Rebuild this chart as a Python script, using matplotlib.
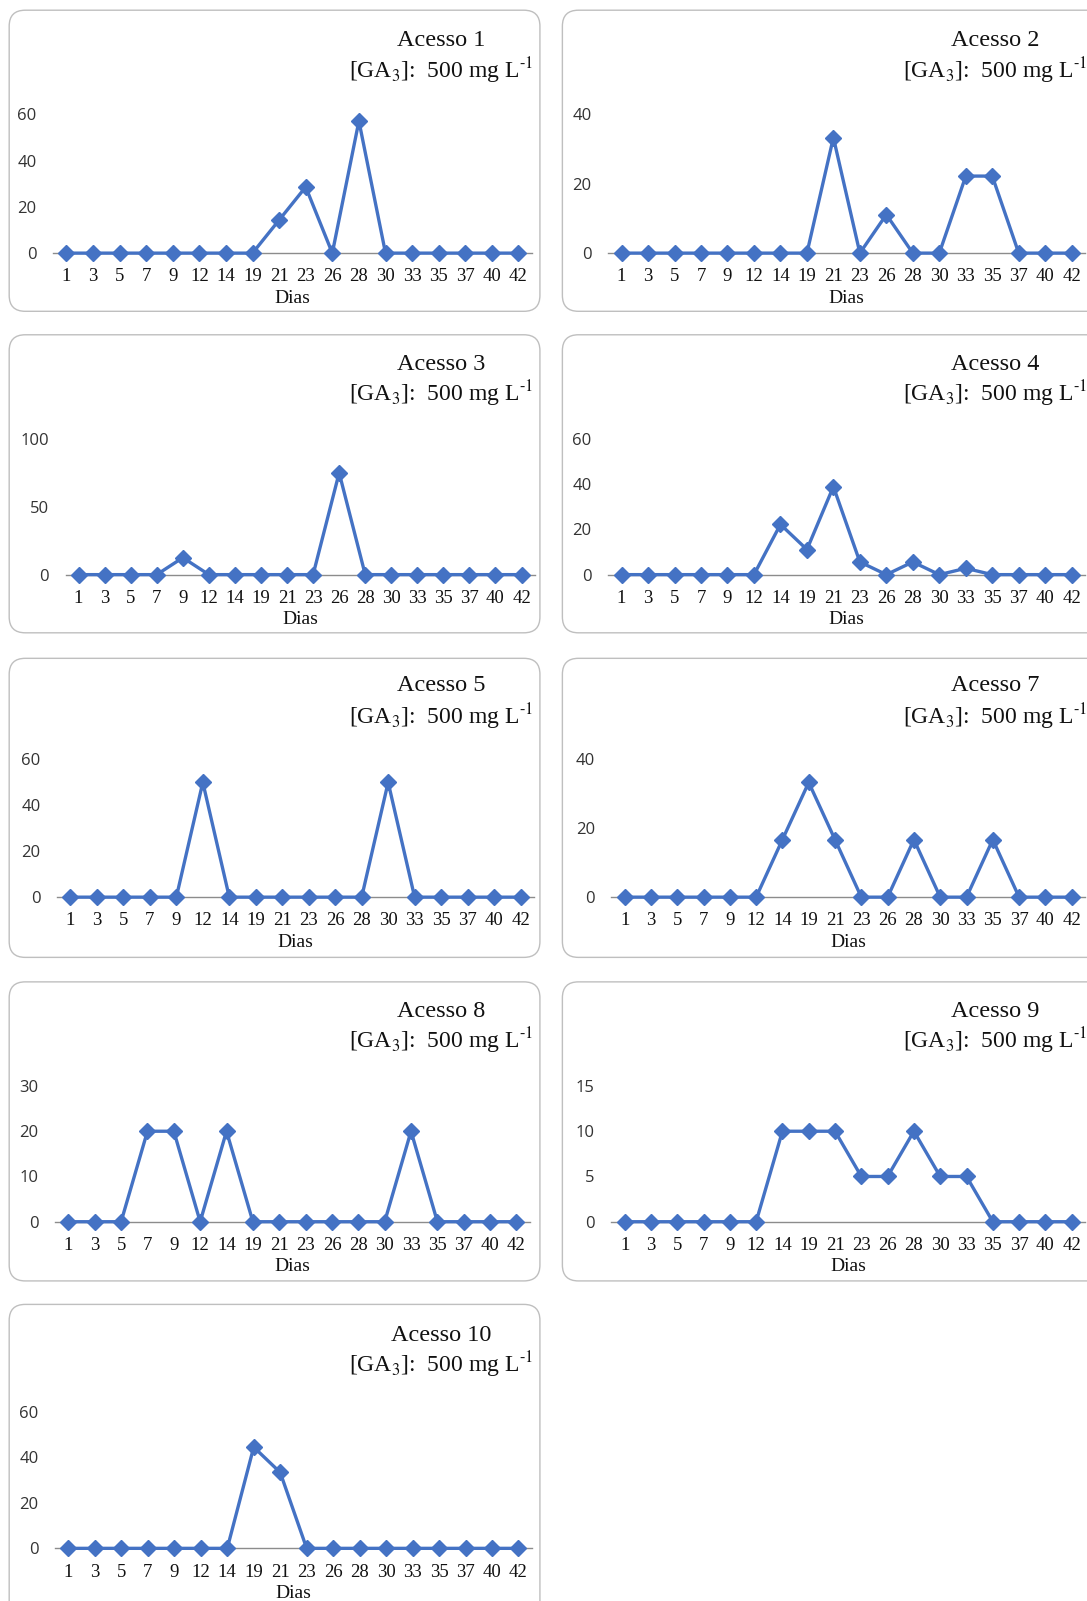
import matplotlib
matplotlib.use("Agg")
import matplotlib.pyplot as plt
from matplotlib.patches import FancyBboxPatch

# ---- data -------------------------------------------------------------
dias = ["1", "3", "5", "7", "9", "12", "14", "19", "21", "23",
        "26", "28", "30", "33", "35", "37", "40", "42"]

acesso_1 = [0, 0, 0, 0, 0, 0, 0, 0, 14.3, 28.6, 0, 57.1, 0, 0, 0, 0, 0, 0]
acesso_2 = [0, 0, 0, 0, 0, 0, 0, 0, 33.3, 0, 11.1, 0, 0, 22.2, 22.2, 0, 0, 0]
acesso_3 = [0, 0, 0, 0, 12.5, 0, 0, 0, 0, 0, 75, 0, 0, 0, 0, 0, 0, 0]
acesso_4 = [0, 0, 0, 0, 0, 0, 22.2, 11.1, 38.9, 5.6, 0, 5.6, 0, 2.8, 0, 0, 0, 0]
acesso_5 = [0, 0, 0, 0, 0, 50, 0, 0, 0, 0, 0, 0, 50, 0, 0, 0, 0, 0]
acesso_7 = [0, 0, 0, 0, 0, 0, 16.7, 33.3, 16.7, 0, 0, 16.7, 0, 0, 16.7, 0, 0, 0]
acesso_8 = [0, 0, 0, 20, 20, 0, 20, 0, 0, 0, 0, 0, 0, 20, 0, 0, 0, 0]
acesso_9 = [0, 0, 0, 0, 0, 0, 10, 10, 10, 5, 5, 10, 5, 5, 0, 0, 0, 0]
acesso_10 = [0, 0, 0, 0, 0, 0, 0, 44.4, 33.3, 0, 0, 0, 0, 0, 0, 0, 0, 0]

yticks_1 = [0, 20, 40, 60]
yticks_2 = [0, 20, 40]
yticks_3 = [0, 50, 100]
yticks_4 = [0, 20, 40, 60]
yticks_5 = [0, 20, 40, 60]
yticks_7 = [0, 20, 40]
yticks_8 = [0, 10, 20, 30]
yticks_9 = [0, 5, 10, 15]
yticks_10 = [0, 20, 40, 60]

subtitle = r"[GA$_3$]:  500 mg L$^{\text{-}1}$"
xlabel = "Dias"

# ---- layout (pixel units on a 1065-wide grid, scaled to the canvas) ----
W, H = 1087, 1601
S = W / 1065.0

row_box = [(10, 305), (328, 620), (645, 938), (962, 1255), (1278, 1600)]
row_top_tick = [112, 430, 744, 1064, 1383]
row_zero = [248, 563, 879, 1197, 1517]
row_title = [40, 357, 672, 991, 1308]
row_sub = [69, 386, 702, 1020, 1337]
col_box = [(9, 529), (551, 1110)]
col_title_x = [432, 975]

# (number, values, yticks, row, col, first category x, last category x)
panels = [
    (1, acesso_1, yticks_1, 0, 0, 65, 508),
    (2, acesso_2, yticks_2, 0, 1, 609, 1050),
    (3, acesso_3, yticks_3, 1, 0, 77, 511),
    (4, acesso_4, yticks_4, 1, 1, 609, 1050),
    (5, acesso_5, yticks_5, 2, 0, 69, 510),
    (7, acesso_7, yticks_7, 2, 1, 612, 1050),
    (8, acesso_8, yticks_8, 3, 0, 67, 506),
    (9, acesso_9, yticks_9, 3, 1, 612, 1050),
    (10, acesso_10, yticks_10, 4, 0, 67, 508),
]

plt.rcParams["mathtext.fontset"] = "stix"
SERIF = ["Liberation Serif", "DejaVu Serif"]
SANS = ["Open Sans", "DejaVu Sans"]
BLUE = "#4472C4"

fig = plt.figure(figsize=(W / 100, H / 100), dpi=100)
fig.patch.set_facecolor("white")

bg = fig.add_axes([0, 0, 1, 1])
bg.set_xlim(0, W)
bg.set_ylim(H, 0)
bg.axis("off")

for num, vals, ticks, r, c, x_first, x_last in panels:
    # rounded frame around each chart
    bx0, bx1 = col_box[c]
    by0, by1 = row_box[r]
    frame = FancyBboxPatch((bx0 * S, by0 * S), (bx1 - bx0) * S, (by1 - by0) * S,
                           boxstyle="round,pad=0,rounding_size=16",
                           facecolor="white", edgecolor="#BFBFBF", linewidth=1.0,
                           transform=bg.transData, zorder=0)
    bg.add_patch(frame)

    # titles
    tx = col_title_x[c] * S
    bg.text(tx, row_title[r] * S, f"Acesso {num}", ha="center", va="center",
            fontsize=17.5, family=SERIF, color="#111111")
    bg.text(tx, row_sub[r] * S, subtitle, ha="center", va="center",
            fontsize=17, family=SERIF, color="#111111")

    # plot area
    step = (x_last - x_first) / 17.0
    left = (x_first - step / 2) * S
    right = (x_last + step / 2) * S
    top = row_top_tick[r] * S
    zero = row_zero[r] * S
    ax = fig.add_axes([left / W, 1 - zero / H, (right - left) / W, (zero - top) / H])
    ax.patch.set_alpha(0)

    xs = list(range(len(dias)))
    ax.plot(xs, vals, color=BLUE, lw=2.4, marker="D", markersize=8,
            markeredgecolor=BLUE, clip_on=False, zorder=3)

    ax.set_xlim(-0.5, len(dias) - 0.5)
    ax.set_ylim(0, ticks[-1])
    ax.set_yticks(ticks)
    ax.set_yticklabels([str(t) for t in ticks], family=SANS, fontsize=12,
                       color="#333333")
    ax.set_xticks(xs)
    ax.set_xticklabels(dias, family=SERIF, fontsize=13.5, color="#111111")
    ax.tick_params(axis="y", length=0, pad=12)
    ax.tick_params(axis="x", length=0, pad=11)

    for side in ("top", "right", "left"):
        ax.spines[side].set_visible(False)
    ax.spines["bottom"].set_color("#8C8C8C")
    ax.spines["bottom"].set_linewidth(1.0)
    ax.spines["bottom"].set_zorder(1)

    # x-axis title
    bg.text((x_first + x_last) / 2 * S, (row_zero[r] + 44) * S, xlabel,
            ha="center", va="center", fontsize=14, family=SERIF, color="#111111")

fig.savefig("out.png", dpi=100, facecolor="white")
